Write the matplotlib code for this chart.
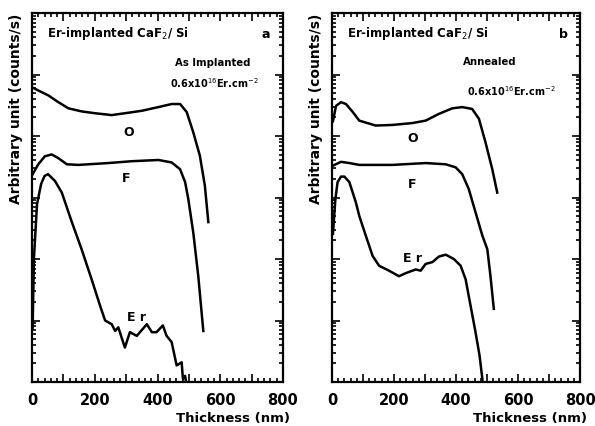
import numpy as np
import matplotlib
matplotlib.use("Agg")
import matplotlib.pyplot as plt
from matplotlib.ticker import LogLocator, NullFormatter, FixedLocator, FixedFormatter, MultipleLocator

# ---------------- data ----------------
# Panel a : as implanted
a_O_x = [1, 20, 52, 84, 116, 158, 201, 254, 296, 350, 403, 445, 472, 493, 514, 535, 551, 562]
a_O_y = [4.79, 4.74, 4.66, 4.55, 4.45, 4.40, 4.37, 4.34, 4.37, 4.41, 4.47, 4.52, 4.52, 4.39, 4.06, 3.68, 3.19, 2.60]
a_F_x = [1, 20, 41, 63, 84, 111, 148, 243, 318, 403, 445, 472, 488, 498, 514, 530, 546]
a_F_y = [3.37, 3.54, 3.67, 3.70, 3.64, 3.54, 3.53, 3.56, 3.59, 3.61, 3.57, 3.46, 3.25, 2.98, 2.43, 1.72, 0.83]
a_Er_x = [2, 6, 16, 29, 40, 51, 73, 95, 127, 158, 190, 217, 233, 254, 265, 275, 296, 312, 334,
          366, 382, 397, 417, 429, 445, 461, 477, 481, 488, 494]
a_Er_y = [0.86, 2.0, 2.89, 3.22, 3.35, 3.38, 3.27, 3.08, 2.60, 2.16, 1.67, 1.24, 1.00, 0.94, 0.83, 0.89,
          0.56, 0.81, 0.75, 0.94, 0.81, 0.81, 0.92, 0.75, 0.65, 0.27, 0.32, 0.05, 0.10, -0.1]

# Panel b : annealed
b_O_x = [3, 13, 29, 45, 67, 88, 141, 195, 259, 302, 345, 388, 420, 452, 474, 495, 517, 533]
b_O_y = [4.24, 4.49, 4.55, 4.52, 4.39, 4.25, 4.17, 4.18, 4.21, 4.25, 4.36, 4.45, 4.47, 4.44, 4.28, 3.90, 3.46, 3.08]
b_F_x = [4, 29, 56, 88, 195, 302, 367, 399, 420, 441, 463, 485, 501, 511, 522]
b_F_y = [3.52, 3.58, 3.56, 3.53, 3.53, 3.56, 3.54, 3.49, 3.38, 3.14, 2.76, 2.38, 2.16, 1.73, 1.19]
b_Er_x = [3, 11, 18, 29, 40, 56, 77, 88, 109, 131, 152, 184, 216, 238, 270, 286, 302, 324, 345,
          367, 393, 415, 431, 447, 463, 476, 485, 487]
b_Er_y = [2.41, 2.98, 3.25, 3.34, 3.34, 3.25, 2.92, 2.70, 2.38, 2.05, 1.89, 1.81, 1.72, 1.77, 1.83,
          1.81, 1.92, 1.95, 2.04, 2.07, 2.00, 1.89, 1.67, 1.24, 0.81, 0.43, 0.05, -0.1]

x_major = [0, 100, 200, 300, 400, 500, 600, 700, 800]
x_major_labels = ["0", "", "200", "", "400", "", "600", "", "800"]

panels = [
    dict(O=(a_O_x, a_O_y), F=(a_F_x, a_F_y), Er=(a_Er_x, a_Er_y), letter="a",
         cond="As Implanted", cond_pos=(456, 5.2), dose_pos=(440, 4.88),
         O_lab=(290, 4.07), F_lab=(287, 3.33), Er_lab=(303, 1.07)),
    dict(O=(b_O_x, b_O_y), F=(b_F_x, b_F_y), Er=(b_Er_x, b_Er_y), letter="b",
         cond="Annealed", cond_pos=(424, 5.22), dose_pos=(437, 4.75),
         O_lab=(244, 3.98), F_lab=(244, 3.22), Er_lab=(228, 2.02)),
]

fig = plt.figure(figsize=(5.95, 4.27), dpi=100)
rects = [[32/595, 44/427, 251/595, 369/427], [332/595, 44/427, 248/595, 369/427]]

for rect, p in zip(rects, panels):
    ax = fig.add_axes(rect)
    for key in ("O", "F", "Er"):
        xs, ys = p[key]
        ax.plot(xs, 10 ** np.array(ys), color="black", lw=1.8, solid_joinstyle="round")
    ax.set_yscale("log")
    ax.set_ylim(1, 1e6)
    ax.set_xlim(0, 800)
    ax.xaxis.set_major_locator(FixedLocator(x_major))
    ax.xaxis.set_major_formatter(FixedFormatter(x_major_labels))
    ax.xaxis.set_minor_locator(MultipleLocator(20))
    ax.yaxis.set_major_locator(LogLocator(base=10, numticks=10))
    ax.yaxis.set_minor_locator(LogLocator(base=10, subs=np.arange(2, 10), numticks=10))
    ax.yaxis.set_major_formatter(NullFormatter())
    ax.yaxis.set_minor_formatter(NullFormatter())
    ax.tick_params(which="both", direction="in", top=True, right=True, width=1.2)
    ax.tick_params(which="major", length=6)
    ax.tick_params(which="minor", length=3)
    ax.tick_params(axis="x", which="major", pad=7, labelsize=10.5)
    for lab in ax.get_xticklabels():
        lab.set_fontweight("bold")
    for s in ax.spines.values():
        s.set_linewidth(1.6)

    ax.text(-0.064, 1.0, "Arbitrary unit (counts/s)", rotation=90, transform=ax.transAxes,
            ha="center", va="top", fontsize=10, fontweight="bold")
    ax.text(0.80, -0.097, "Thickness (nm)", transform=ax.transAxes, ha="center", va="center",
            fontsize=9.5, fontweight="bold")

    ax.text(48, 10 ** 5.69, "Er-implanted CaF$_2$/ Si", fontsize=8.5, fontweight="bold",
            ha="left", va="center")
    ax.text(745, 10 ** 5.67, p["letter"], fontsize=9, fontweight="bold", ha="center", va="center")
    ax.text(p["cond_pos"][0], 10 ** p["cond_pos"][1], p["cond"], fontsize=7.3, fontweight="bold",
            ha="left", va="center")
    ax.text(p["dose_pos"][0], 10 ** p["dose_pos"][1], "0.6x10$^{16}$Er.cm$^{-2}$", fontsize=7,
            fontweight="bold", ha="left", va="center")
    ax.text(p["O_lab"][0], 10 ** p["O_lab"][1], "O", fontsize=9, fontweight="bold", ha="left", va="center")
    ax.text(p["F_lab"][0], 10 ** p["F_lab"][1], "F", fontsize=9, fontweight="bold", ha="left", va="center")
    ax.text(p["Er_lab"][0], 10 ** p["Er_lab"][1], "E r", fontsize=9, fontweight="bold", ha="left", va="center")

fig.savefig("out.png", dpi=100)
